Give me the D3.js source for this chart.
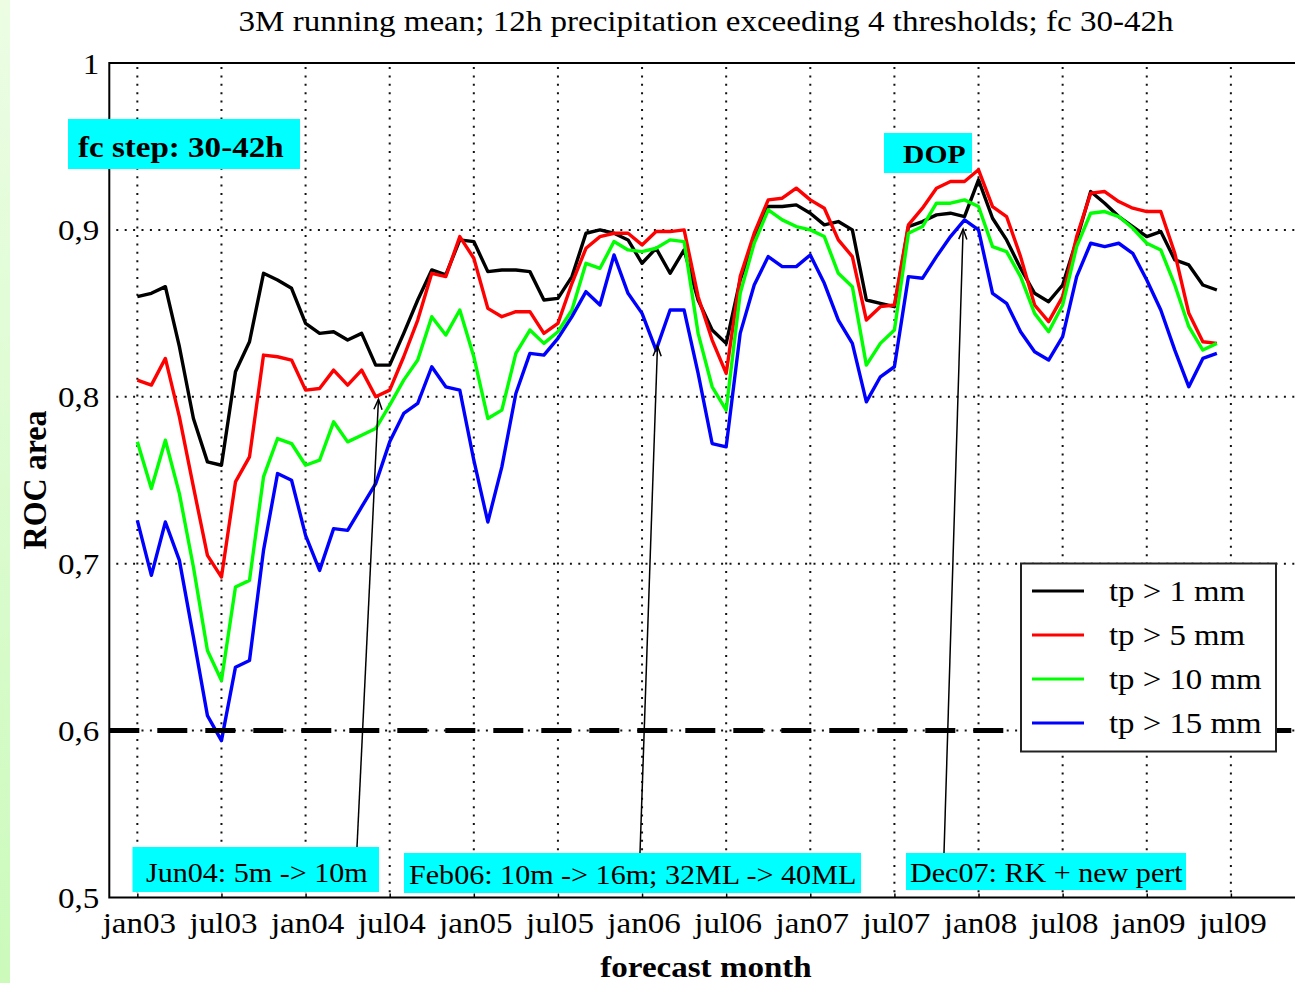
<!DOCTYPE html>
<html>
<head>
<meta charset="utf-8">
<script src="https://cdn.jsdelivr.net/npm/d3@7"></script>
<style>
  html, body { margin: 0; padding: 0; background: #fff; }
  svg { display: block; font-family: "Liberation Serif", "Times New Roman", serif; }
</style>
</head>
<body>
<svg id="chart" width="1295" height="983"></svg>
<script>
// Monthly ROC area, 3-month running mean, jan03 .. jun09 (index 0 = jan03)
const tp1 = [0.860,0.862,0.866,0.830,0.787,0.761,0.759,0.815,0.833,0.874,0.870,0.865,
             0.844,0.838,0.839,0.834,0.838,0.819,0.819,0.838,0.858,0.876,0.873,0.894,
             0.893,0.875,0.876,0.876,0.875,0.858,0.859,0.872,0.898,0.900,0.898,0.894,
             0.880,0.889,0.874,0.888,0.858,0.840,0.832,0.870,0.894,0.914,0.914,0.915,
             0.910,0.903,0.905,0.900,0.858,0.856,0.854,0.902,0.905,0.909,0.910,0.908,
             0.930,0.907,0.894,0.877,0.862,0.857,0.867,0.894,0.923,0.916,0.908,0.902,
             0.896,0.899,0.882,0.879,0.867,0.864];
const tp5 = [0.810,0.807,0.823,0.788,0.746,0.705,0.692,0.749,0.764,0.825,0.824,0.822,
             0.804,0.805,0.816,0.807,0.816,0.800,0.804,0.824,0.846,0.874,0.872,0.896,
             0.883,0.853,0.848,0.851,0.851,0.838,0.844,0.868,0.889,0.896,0.898,0.898,
             0.891,0.899,0.899,0.900,0.860,0.834,0.814,0.872,0.898,0.918,0.919,0.925,
             0.918,0.913,0.894,0.884,0.846,0.854,0.855,0.903,0.913,0.925,0.929,0.929,
             0.936,0.914,0.908,0.884,0.855,0.845,0.860,0.896,0.922,0.923,0.917,0.913,
             0.911,0.911,0.886,0.850,0.833,0.832];
const tp10 = [0.773,0.745,0.774,0.742,0.698,0.648,0.630,0.686,0.690,0.752,0.775,0.772,
              0.759,0.762,0.785,0.773,0.777,0.781,0.795,0.810,0.822,0.848,0.837,0.852,
              0.824,0.787,0.792,0.826,0.840,0.832,0.839,0.852,0.880,0.877,0.893,0.888,
              0.887,0.889,0.894,0.893,0.838,0.806,0.792,0.862,0.892,0.912,0.906,0.902,
              0.900,0.896,0.874,0.866,0.819,0.832,0.840,0.898,0.902,0.916,0.916,0.918,
              0.914,0.890,0.887,0.872,0.850,0.839,0.855,0.890,0.910,0.911,0.908,0.901,
              0.892,0.888,0.867,0.842,0.828,0.832];
const tp15 = [0.726,0.693,0.725,0.702,0.656,0.609,0.594,0.638,0.642,0.708,0.754,0.750,
              0.717,0.696,0.721,0.720,0.734,0.748,0.773,0.790,0.796,0.818,0.806,0.804,
              0.762,0.725,0.758,0.802,0.826,0.825,0.835,0.848,0.863,0.855,0.885,0.862,
              0.850,0.828,0.852,0.852,0.814,0.772,0.770,0.838,0.867,0.884,0.878,0.878,
              0.885,0.868,0.846,0.832,0.797,0.812,0.818,0.872,0.871,0.884,0.896,0.906,
              0.900,0.862,0.856,0.839,0.827,0.822,0.836,0.872,0.892,0.890,0.892,0.886,
              0.870,0.852,0.828,0.806,0.823,0.826];

const seriesNames  = ["tp > 1 mm", "tp > 5 mm", "tp > 10 mm", "tp > 15 mm"];
const seriesValues = [tp1, tp5, tp10, tp15];
const seriesColors = ["#000000", "#ff0000", "#00ff00", "#0000ff"];

const tickMonths = [0, 6, 12, 18, 24, 30, 36, 42, 48, 54, 60, 66, 72, 78];
const tickLabels = ["jan03","jul03","jan04","jul04","jan05","jul05","jan06",
                    "jul06","jan07","jul07","jan08","jul08","jan09","jul09"];
const yTicks = [0.5, 0.6, 0.7, 0.8, 0.9, 1.0];
const yGrid  = [0.6, 0.7, 0.8, 0.9];
const threshold = 0.6;

// change notes: [month index of the arrow tip, value at the tip, text]
const notes = [
  { month: 17.2, value: 0.7985, text: "Jun04: 5m -> 10m" },
  { month: 37.1, value: 0.8305, text: "Feb06: 10m -> 16m; 32ML -> 40ML" },
  { month: 58.9, value: 0.9005, text: "Dec07: RK + new pert" }
];

const W = 1295, H = 983;
const SX = 1.14;               // horizontal glyph stretch of the serif face
const svg = d3.select("#chart");

const x = d3.scaleLinear().domain([-2, 84]).range([109.3, 1315]);
const y = d3.scaleLinear().domain([0.5, 1.0]).range([897.5, 63]);

// soft green strip on the left margin
const defs = svg.append("defs");
const grad = defs.append("linearGradient").attr("id", "strip")
  .attr("x1", 0).attr("y1", 0).attr("x2", 0).attr("y2", 1);
grad.append("stop").attr("offset", "0%").attr("stop-color", "#ecfde4");
grad.append("stop").attr("offset", "100%").attr("stop-color", "#cbfabb");
svg.append("rect").attr("x", 0).attr("y", 0).attr("width", 10).attr("height", H)
  .attr("fill", "url(#strip)");

function label(parent, px, py, s, opt) {
  const o = Object.assign({ size: 29, anchor: "start", weight: "normal", rotate: 0, stretch: SX }, opt || {});
  const t = parent.append("text")
    .attr("font-size", o.size)
    .attr("font-weight", o.weight)
    .attr("text-anchor", o.anchor)
    .attr("fill", "#000")
    .text(s);
  if (o.rotate) t.attr("transform", `translate(${px},${py}) rotate(${o.rotate}) scale(1,${o.stretch})`);
  else t.attr("transform", `translate(${px},${py}) scale(${o.stretch},1)`);
  return t;
}

// dotted grid
const grid = svg.append("g").attr("stroke", "#111").attr("stroke-width", 2)
  .attr("stroke-dasharray", "2,6.4");
grid.selectAll("line.v").data(tickMonths).join("line").attr("class", "v")
  .attr("x1", d => x(d)).attr("x2", d => x(d))
  .attr("y1", y(1.0) + 4).attr("y2", y(0.5));
grid.selectAll("line.h").data(yGrid).join("line").attr("class", "h")
  .attr("x1", x(-2) + 7).attr("x2", W)
  .attr("y1", d => y(d)).attr("y2", d => y(d));

// series
const line = d3.line().x((d, i) => x(i)).y(d => y(d));
svg.append("g").selectAll("path").data(seriesValues).join("path")
  .attr("d", d => line(d))
  .attr("fill", "none")
  .attr("stroke", (d, i) => seriesColors[i])
  .attr("stroke-width", 3.4)
  .attr("stroke-linejoin", "round");

// 0.6 reference line
svg.append("line")
  .attr("x1", x(-2)).attr("x2", W)
  .attr("y1", y(threshold)).attr("y2", y(threshold))
  .attr("stroke", "#000").attr("stroke-width", 5)
  .attr("stroke-dasharray", "30,18");

// frame: left, top and bottom edges
svg.append("path")
  .attr("d", `M${W},${y(1.0)}H${x(-2)}V${y(0.5)}H${W}`)
  .attr("fill", "none").attr("stroke", "#000").attr("stroke-width", 2);

// x axis
const xAxis = d3.axisBottom(x).tickValues(tickMonths)
  .tickFormat((d, i) => tickLabels[i]).tickSize(-4).tickPadding(0);
const gx = svg.append("g").attr("transform", `translate(0,${y(0.5)})`).call(xAxis);
gx.select(".domain").remove();
gx.selectAll(".tick line").attr("stroke", "#000").attr("stroke-width", 1.5);
gx.selectAll(".tick text")
  .attr("font-family", "Liberation Serif, serif").attr("font-size", 29)
  .attr("fill", "#000").attr("y", 0).attr("dy", 0)
  .attr("transform", `translate(1.5,35.5) scale(${SX},1)`);

// y axis
const yAxis = d3.axisLeft(y).tickValues(yTicks)
  .tickFormat(d => d === 1 ? "1" : d3.format(".1f")(d).replace(".", ","))
  .tickSize(0).tickPadding(0);
const gy = svg.append("g").attr("transform", `translate(${x(-2)},0)`).call(yAxis);
gy.select(".domain").remove();
gy.selectAll(".tick text")
  .attr("font-family", "Liberation Serif, serif").attr("font-size", 29)
  .attr("fill", "#000").attr("x", 0).attr("dy", 0)
  .attr("transform", `translate(-10,10) scale(${SX},1)`);

// title and axis names
label(svg, 706, 31, "3M running mean; 12h precipitation exceeding 4 thresholds; fc 30-42h",
      { size: 29, anchor: "middle" });
label(svg, 706, 977, "forecast month", { size: 29, anchor: "middle", weight: "bold" });
label(svg, 46, 480, "ROC area", { size: 32, anchor: "middle", weight: "bold", rotate: -90, stretch: 1.06 });

// legend
const lg = svg.append("g");
lg.append("rect").attr("x", 1021).attr("y", 563.5).attr("width", 255).attr("height", 188)
  .attr("fill", "#fff").attr("stroke", "#222").attr("stroke-width", 2);
seriesNames.forEach((name, i) => {
  const ly = 591 + i * 44;
  lg.append("line").attr("x1", 1032).attr("x2", 1084).attr("y1", ly).attr("y2", ly)
    .attr("stroke", seriesColors[i]).attr("stroke-width", 3.2);
  label(lg, 1109, ly + 10, name, { size: 28.8 });
});

// highlighted captions
function caption(bx, by, bw, bh, s, tx, ty, opt) {
  svg.append("rect").attr("x", bx).attr("y", by).attr("width", bw).attr("height", bh)
    .attr("fill", "#00ffff");
  label(svg, tx, ty, s, opt);
}
caption(68, 119, 232, 50, "fc step: 30-42h", 78, 157, { size: 29, weight: "bold" });
caption(884, 133, 88, 40, "DOP", 903, 163, { size: 26, weight: "bold" });

const boxes = [
  { x: 132.5, y: 847, w: 246.5, h: 45, tx: 146, ty: 882 },
  { x: 404, y: 853, w: 457, h: 40, tx: 409, ty: 884 },
  { x: 906, y: 853, w: 280, h: 37, tx: 910, ty: 882 }
];
const baseX = [357, 640, 944];
notes.forEach((n, i) => {
  const b = boxes[i];
  caption(b.x, b.y, b.w, b.h, n.text, b.tx, b.ty, { size: 26.4 });
  const x0 = baseX[i], y0 = b.y, x1 = x(n.month), y1 = y(n.value);
  svg.append("line").attr("x1", x0).attr("y1", y0).attr("x2", x1).attr("y2", y1)
    .attr("stroke", "#000").attr("stroke-width", 1.5);
  const ang = Math.atan2(y0 - y1, x0 - x1);
  const len = 11, spread = 0.38;
  const p1 = [x1 + len * Math.cos(ang + spread), y1 + len * Math.sin(ang + spread)];
  const p2 = [x1 + len * Math.cos(ang - spread), y1 + len * Math.sin(ang - spread)];
  svg.append("path").attr("d", `M${p1}L${x1},${y1}L${p2}`)
    .attr("fill", "none").attr("stroke", "#000").attr("stroke-width", 1.5);
});
</script>
</body>
</html>
